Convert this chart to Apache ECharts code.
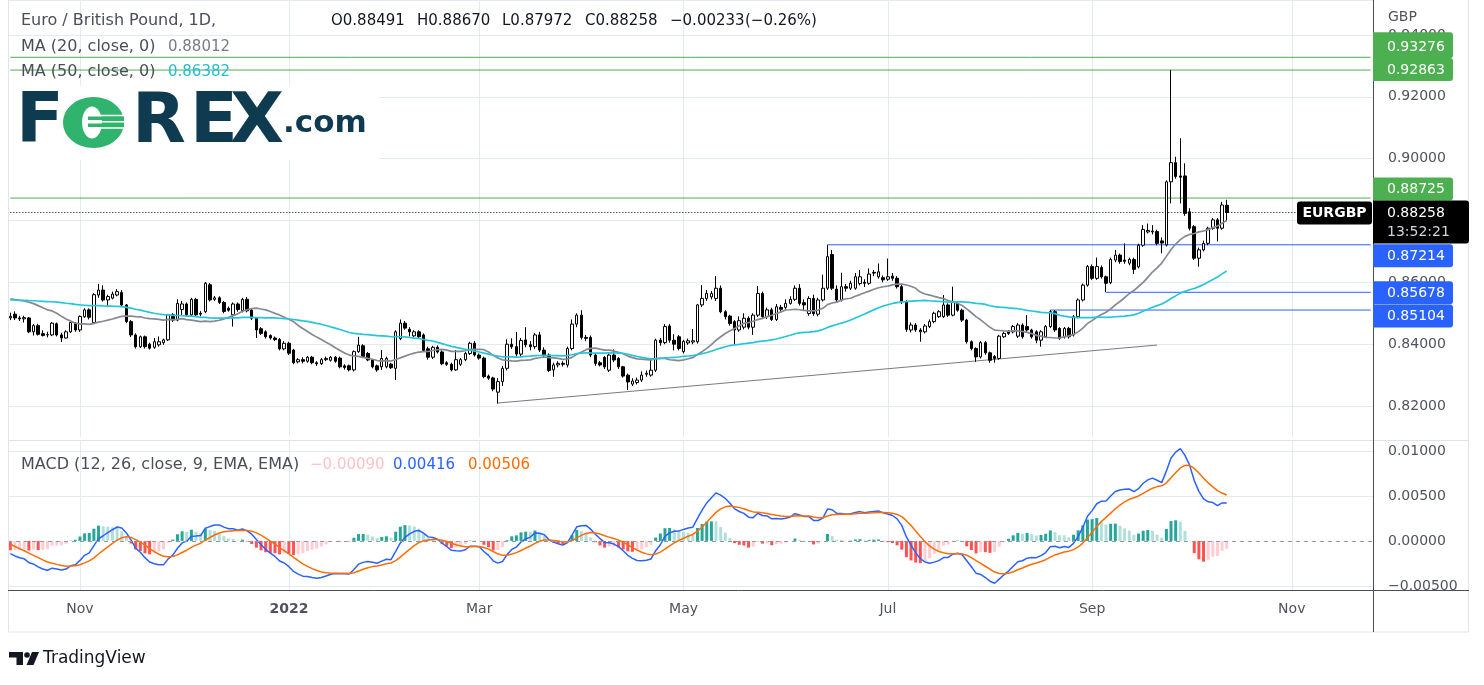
<!DOCTYPE html>
<html>
<head>
<meta charset="utf-8">
<script src="https://cdn.jsdelivr.net/npm/echarts/dist/echarts.min.js"></script>
<style>
html,body{margin:0;padding:0;background:#fff;}
#chart{width:1484px;height:685px;}
</style>
</head>
<body>
<div id="chart"></div>
<script>
// ---------------- DATA ----------------
const startDate = '2021-10-11';
const totalSlots = 294;
const monthTickDates = ['2021-11-01','2022-01-03','2022-03-01','2022-05-02','2022-07-01','2022-09-01','2022-11-01'];
const monthTickLabels = ['Nov','2022','Mar','May','Jul','Sep','Nov'];
const boldTickLabels = ['2022'];

// closes before the visible window (warm-up for moving averages / MACD)
const priorCloses = [0.8580,0.8600,0.8610,0.8570,0.8550,0.8550,0.8570,0.8560,0.8530,0.8540,
 0.8550,0.8520,0.8510,0.8510,0.8490,0.8480,0.8470,0.8480,0.8490,0.8480,
 0.8490,0.8510,0.8530,0.8530,0.8560,0.8580,0.8570,0.8560,0.8560,0.8570,
 0.8580,0.8580,0.8590,0.8590,0.8580,0.8580,0.8570,0.8560,0.8560,0.8580,
 0.8580,0.8540,0.8530,0.8520,0.8530,0.8550,0.8560,0.8570,0.8560,0.8540,
 0.8580,0.8620,0.8610,0.8610,0.8580,0.8530,0.8520,0.8510,0.8500,0.8490];

// daily candles: [open, close, low, high]
const candles = [
[0.8485,0.8490,0.8478,0.8502],[0.8497,0.8485,0.8478,0.8506],[0.8485,0.8482,0.8475,0.8492],[0.8482,0.8486,0.8470,0.8492],
[0.8485,0.8440,0.8436,0.8488],[0.8440,0.8460,0.8428,0.8465],[0.8460,0.8432,0.8428,0.8466],[0.8434,0.8428,0.8425,0.8445],
[0.8430,0.8431,0.8422,0.8440],[0.8430,0.8468,0.8426,0.8472],[0.8466,0.8430,0.8425,0.8470],[0.8430,0.8420,0.8407,0.8437],
[0.8420,0.8440,0.8418,0.8445],[0.8440,0.8470,0.8436,0.8474],[0.8468,0.8446,0.8440,0.8472],[0.8446,0.8490,0.8440,0.8493],
[0.8489,0.8511,0.8485,0.8516],[0.8511,0.8487,0.8480,0.8516],[0.8470,0.8560,0.8465,0.8565],[0.8559,0.8575,0.8550,0.8595],
[0.8575,0.8543,0.8538,0.8590],[0.8543,0.8554,0.8520,0.8560],[0.8549,0.8562,0.8545,0.8570],[0.8559,0.8570,0.8555,0.8578],
[0.8567,0.8527,0.8520,0.8575],[0.8527,0.8473,0.8468,0.8530],[0.8473,0.8430,0.8423,0.8478],[0.8430,0.8392,0.8386,0.8435],
[0.8392,0.8424,0.8388,0.8428],[0.8424,0.8392,0.8386,0.8428],[0.8400,0.8387,0.8383,0.8405],[0.8390,0.8408,0.8385,0.8420],
[0.8398,0.8408,0.8392,0.8425],[0.8405,0.8414,0.8398,0.8418],[0.8414,0.8495,0.8410,0.8498],[0.8495,0.8478,0.8472,0.8500],
[0.8478,0.8532,0.8474,0.8545],[0.8512,0.8530,0.8495,0.8540],[0.8530,0.8495,0.8490,0.8535],[0.8495,0.8545,0.8490,0.8550],
[0.8545,0.8495,0.8490,0.8550],[0.8497,0.8500,0.8490,0.8507],[0.8505,0.8597,0.8500,0.8601],[0.8592,0.8543,0.8538,0.8598],
[0.8545,0.8550,0.8540,0.8556],[0.8550,0.8535,0.8530,0.8555],[0.8535,0.8506,0.8500,0.8540],[0.8516,0.8510,0.8505,0.8522],
[0.8495,0.8530,0.8457,0.8535],[0.8530,0.8512,0.8505,0.8535],[0.8508,0.8545,0.8503,0.8550],[0.8545,0.8508,0.8503,0.8552],
[0.8510,0.8484,0.8478,0.8515],[0.8484,0.8446,0.8420,0.8488],[0.8450,0.8435,0.8430,0.8455],[0.8440,0.8424,0.8418,0.8445],
[0.8428,0.8420,0.8415,0.8432],[0.8420,0.8415,0.8410,0.8425],[0.8415,0.8385,0.8380,0.8420],[0.8385,0.8403,0.8380,0.8410],
[0.8403,0.8371,0.8365,0.8408],[0.8381,0.8340,0.8335,0.8385],[0.8343,0.8350,0.8338,0.8355],[0.8350,0.8345,0.8338,0.8358],
[0.8345,0.8358,0.8340,0.8362],[0.8358,0.8340,0.8335,0.8362],[0.8340,0.8337,0.8330,0.8345],[0.8337,0.8350,0.8333,0.8355],
[0.8350,0.8354,0.8345,0.8360],[0.8348,0.8358,0.8344,0.8362],[0.8358,0.8345,0.8340,0.8362],[0.8355,0.8327,0.8322,0.8360],
[0.8330,0.8325,0.8318,0.8335],[0.8330,0.8317,0.8312,0.8334],[0.8317,0.8376,0.8312,0.8380],[0.8376,0.8397,0.8372,0.8424],
[0.8395,0.8360,0.8355,0.8400],[0.8370,0.8349,0.8345,0.8375],[0.8349,0.8327,0.8322,0.8352],[0.8330,0.8317,0.8311,0.8334],
[0.8327,0.8354,0.8317,0.8381],[0.8327,0.8354,0.8322,0.8360],[0.8336,0.8324,0.8320,0.8340],[0.8322,0.8440,0.8284,0.8445],
[0.8418,0.8468,0.8413,0.8480],[0.8468,0.8452,0.8447,0.8475],[0.8448,0.8440,0.8425,0.8455],[0.8427,0.8440,0.8422,0.8445],
[0.8440,0.8424,0.8420,0.8445],[0.8430,0.8380,0.8375,0.8435],[0.8385,0.8358,0.8350,0.8392],[0.8358,0.8390,0.8352,0.8395],
[0.8390,0.8375,0.8370,0.8396],[0.8375,0.8337,0.8332,0.8380],[0.8340,0.8335,0.8330,0.8345],[0.8335,0.8317,0.8312,0.8340],
[0.8317,0.8350,0.8314,0.8381],[0.8335,0.8350,0.8330,0.8355],[0.8350,0.8370,0.8345,0.8375],[0.8370,0.8403,0.8365,0.8408],
[0.8403,0.8365,0.8360,0.8410],[0.8365,0.8355,0.8350,0.8370],[0.8355,0.8295,0.8290,0.8360],[0.8297,0.8290,0.8285,0.8302],
[0.8291,0.8255,0.8248,0.8295],[0.8245,0.8279,0.8208,0.8290],[0.8279,0.8322,0.8265,0.8330],[0.8322,0.8400,0.8315,0.8416],
[0.8400,0.8392,0.8385,0.8419],[0.8392,0.8368,0.8360,0.8440],[0.8368,0.8412,0.8360,0.8420],[0.8414,0.8398,0.8390,0.8455],
[0.8398,0.8392,0.8380,0.8410],[0.8392,0.8430,0.8385,0.8436],[0.8430,0.8381,0.8375,0.8440],[0.8381,0.8365,0.8358,0.8390],
[0.8365,0.8315,0.8310,0.8370],[0.8317,0.8333,0.8295,0.8340],[0.8333,0.8338,0.8325,0.8345],[0.8338,0.8335,0.8328,0.8345],
[0.8333,0.8386,0.8325,0.8392],[0.8386,0.8465,0.8380,0.8480],[0.8465,0.8494,0.8455,0.8500],[0.8494,0.8422,0.8415,0.8510],
[0.8422,0.8419,0.8410,0.8430],[0.8422,0.8365,0.8358,0.8428],[0.8365,0.8338,0.8330,0.8370],[0.8340,0.8333,0.8328,0.8346],
[0.8357,0.8327,0.8320,0.8362],[0.8316,0.8365,0.8310,0.8370],[0.8365,0.8349,0.8342,0.8383],[0.8354,0.8327,0.8320,0.8358],
[0.8327,0.8297,0.8292,0.8330],[0.8300,0.8278,0.8252,0.8305],[0.8271,0.8281,0.8265,0.8290],[0.8276,0.8284,0.8270,0.8292],
[0.8284,0.8300,0.8278,0.8312],[0.8303,0.8306,0.8295,0.8315],[0.8300,0.8316,0.8295,0.8350],[0.8316,0.8413,0.8310,0.8418],
[0.8413,0.8405,0.8395,0.8420],[0.8405,0.8457,0.8400,0.8465],[0.8459,0.8413,0.8405,0.8465],[0.8413,0.8400,0.8380,0.8432],
[0.8424,0.8386,0.8380,0.8430],[0.8376,0.8409,0.8370,0.8414],[0.8404,0.8411,0.8398,0.8418],[0.8407,0.8411,0.8400,0.8449],
[0.8408,0.8527,0.8402,0.8530],[0.8527,0.8548,0.8520,0.8591],[0.8548,0.8564,0.8540,0.8575],[0.8553,0.8564,0.8545,0.8572],
[0.8548,0.8581,0.8540,0.8620],[0.8581,0.8505,0.8500,0.8590],[0.8505,0.8489,0.8480,0.8510],[0.8491,0.8467,0.8460,0.8495],
[0.8473,0.8446,0.8397,0.8478],[0.8446,0.8476,0.8440,0.8490],[0.8455,0.8484,0.8448,0.8500],[0.8484,0.8455,0.8448,0.8490],
[0.8455,0.8494,0.8430,0.8500],[0.8494,0.8564,0.8488,0.8588],[0.8564,0.8489,0.8482,0.8570],[0.8489,0.8511,0.8482,0.8518],
[0.8511,0.8480,0.8475,0.8518],[0.8480,0.8521,0.8475,0.8530],[0.8519,0.8513,0.8505,0.8527],[0.8519,0.8532,0.8512,0.8545],
[0.8532,0.8545,0.8528,0.8555],[0.8545,0.8581,0.8540,0.8590],[0.8581,0.8532,0.8525,0.8594],[0.8534,0.8527,0.8510,0.8545],
[0.8499,0.8548,0.8492,0.8555],[0.8548,0.8499,0.8492,0.8560],[0.8497,0.8543,0.8490,0.8550],[0.8543,0.8581,0.8538,0.8625],
[0.8581,0.8683,0.8575,0.87214],[0.8690,0.8581,0.8575,0.8705],[0.8578,0.8543,0.8535,0.8590],[0.8543,0.8586,0.8538,0.8631],
[0.8586,0.8581,0.8570,0.8595],[0.8581,0.8597,0.8575,0.8605],[0.8581,0.8618,0.8576,0.8630],[0.8596,0.8618,0.8590,0.8640],
[0.8600,0.8597,0.8585,0.8610],[0.8597,0.8627,0.8592,0.8645],[0.8632,0.8630,0.8620,0.8640],[0.8618,0.8634,0.8612,0.8661],
[0.8615,0.8608,0.8600,0.8622],[0.8610,0.8618,0.8605,0.8677],[0.8620,0.8613,0.8605,0.8630],[0.8613,0.8586,0.8580,0.8620],
[0.8586,0.8537,0.8530,0.8592],[0.8537,0.8448,0.8440,0.8542],[0.8446,0.8462,0.8438,0.8470],[0.8462,0.8446,0.8440,0.8468],
[0.8446,0.8440,0.8408,0.8452],[0.8440,0.8459,0.8435,0.8465],[0.8457,0.8473,0.8452,0.8480],[0.8473,0.8500,0.8468,0.8505],
[0.8489,0.8505,0.8485,0.8510],[0.8489,0.8527,0.8485,0.8559],[0.8527,0.8494,0.8488,0.8532],[0.8494,0.8535,0.8490,0.8586],
[0.8532,0.8510,0.8505,0.8538],[0.8510,0.8478,0.8472,0.8515],[0.8478,0.8408,0.8402,0.8482],[0.8408,0.8386,0.8380,0.8412],
[0.8386,0.8359,0.8343,0.8390],[0.8359,0.8405,0.8354,0.8410],[0.8405,0.8372,0.8366,0.8410],[0.8372,0.8348,0.8340,0.8376],
[0.8360,0.8354,0.8340,0.8365],[0.8354,0.8426,0.8350,0.8430],[0.8424,0.8435,0.8420,0.8440],[0.8440,0.8435,0.8430,0.8446],
[0.8440,0.8457,0.8435,0.8462],[0.8426,0.8462,0.8420,0.8468],[0.8462,0.8424,0.8418,0.8468],[0.8457,0.8446,0.8440,0.8494],
[0.8446,0.8424,0.8418,0.8450],[0.8440,0.8413,0.8403,0.8445],[0.8413,0.8440,0.8392,0.8445],[0.8424,0.8457,0.8420,0.8462],
[0.8457,0.8505,0.8452,0.85104],[0.8505,0.8446,0.8440,0.8510],[0.8451,0.8419,0.8414,0.8455],[0.8424,0.8451,0.8418,0.8456],
[0.8451,0.8424,0.8418,0.8456],[0.8430,0.8489,0.8425,0.8495],[0.8489,0.8543,0.8484,0.8548],[0.8543,0.8591,0.8538,0.8596],
[0.8591,0.8651,0.8586,0.8656],[0.8651,0.8613,0.8608,0.8658],[0.8613,0.8651,0.8608,0.8680],[0.8648,0.8618,0.8612,0.8655],
[0.8618,0.8597,0.85678,0.8622],[0.8599,0.8674,0.8594,0.8680],[0.8672,0.8688,0.8665,0.8705],[0.8688,0.8667,0.8660,0.8693],
[0.8672,0.8668,0.8660,0.8726],[0.8662,0.8674,0.8655,0.8680],[0.8674,0.8642,0.8627,0.8680],[0.8650,0.8720,0.8645,0.8725],
[0.8720,0.8771,0.8715,0.8785],[0.8763,0.8768,0.8758,0.8790],[0.8763,0.8766,0.8755,0.8785],[0.8764,0.8726,0.8720,0.8770],
[0.8734,0.8727,0.8694,0.8745],[0.8721,0.8925,0.8716,0.8930],[0.8925,0.8987,0.8855,0.92863],[0.8987,0.8942,0.8935,0.9006],
[0.8944,0.8940,0.8855,0.9066],[0.8944,0.8823,0.8815,0.8985],[0.8828,0.8775,0.8768,0.8840],[0.8780,0.8678,0.8672,0.8785],
[0.8678,0.8705,0.8651,0.8712],[0.8705,0.8726,0.8700,0.8735],[0.8726,0.8775,0.8720,0.8780],[0.8775,0.8802,0.8770,0.8808],
[0.8802,0.8775,0.8732,0.8808],[0.8775,0.8850,0.8770,0.8860],[0.88491,0.88258,0.87972,0.88670]
];

const greenLevels = [0.93276, 0.92863, 0.88725];
const blueLevels = [
  {from: '2022-06-14', value: 0.87214},
  {from: '2022-09-06', value: 0.85678},
  {from: '2022-08-19', value: 0.85104}
];
const trendLine = [{date: '2022-03-07', value: 0.82098}, {date: '2022-09-21', value: 0.83973}];
const countdown = '13:52:21';
const symbolTag = 'EURGBP';
const titleText = 'Euro / British Pound, 1D,';
const ohlcTexts = ['O0.88491', 'H0.88670', 'L0.87972', 'C0.88258', '\u22120.00233', '(\u22120.26%)'];
const ma20Text = 'MA (20, close, 0)', ma20Value = '0.88012';
const ma50Text = 'MA (50, close, 0)', ma50Value = '0.86382';
const macdText = 'MACD (12, 26, close, 9, EMA, EMA)';
const macdValues = ['\u22120.00090', '0.00416', '0.00506'];

// ---------------- BUILD ----------------
const cats = [];
(function () {
  const p = startDate.split('-').map(Number);
  let t = Date.UTC(p[0], p[1] - 1, p[2]);
  while (cats.length < totalSlots) {
    const d = new Date(t);
    const wd = d.getUTCDay();
    if (wd !== 0 && wd !== 6) cats.push(d.toISOString().slice(0, 10));
    t += 86400000;
  }
})();
const tickMap = new Map(monthTickDates.map((d, i) => [d, monthTickLabels[i]]));

const closes = candles.map(r => r[1]);
const allCloses = priorCloses.concat(closes);
const off = priorCloses.length;

function smaAt(n, j) { let s = 0; for (let k = j - n + 1; k <= j; k++) s += allCloses[k]; return s / n; }
const ma20 = closes.map((_, i) => +smaAt(20, i + off).toFixed(6));
const ma50 = closes.map((_, i) => +smaAt(50, i + off).toFixed(6));

function ema(arr, n) { const a = 2 / (n + 1); const out = [arr[0]]; for (let i = 1; i < arr.length; i++) out.push(a * arr[i] + (1 - a) * out[i - 1]); return out; }
const e12 = ema(allCloses, 12), e26 = ema(allCloses, 26);
const macdAll = e12.map((v, i) => v - e26[i]);
const sigAll = ema(macdAll, 9);
const histAll = macdAll.map((v, i) => v - sigAll[i]);
const macdLine = macdAll.slice(off).map(v => +v.toFixed(6));
const sigLine = sigAll.slice(off).map(v => +v.toFixed(6));
const histData = histAll.slice(off).map((h, i) => {
  const prev = histAll[i + off - 1];
  let c;
  if (h >= 0) c = h > prev ? '#26a69a' : '#b2dfdb';
  else c = h < prev ? '#ff5252' : '#ffcdd2';
  return {value: +h.toFixed(6), itemStyle: {color: c}};
});

const FONT = '"DejaVu Sans", Verdana, sans-serif';
const GRID = '#e3eaf0';
const AXIS_TXT = '#50535e';

// split-line colours: only every second 0.01 tick on the price axis
const priceSplitColors = ['rgba(0,0,0,0)', GRID];
const macdSplitColors = [];
for (let i = 0; i < 40; i++) macdSplitColors.push((i === 1 || i === 21 || i === 31) ? GRID : 'rgba(0,0,0,0)');

const firstCat = cats[0], lastCat = cats[cats.length - 1];
const lastClose = closes[closes.length - 1];

function levelSeries(name, pts, color, type) {
  return {type: 'line', name: name, xAxisIndex: 0, yAxisIndex: 0, data: pts, showSymbol: false, silent: true, z: 2,
    lineStyle: {color: color, width: 1, type: type || 'solid'}};
}
const levelSeriesList = [];
greenLevels.forEach((v, i) => levelSeriesList.push(levelSeries('g' + i, [[firstCat, v], [lastCat, v]], '#4caf50')));
blueLevels.forEach((b, i) => levelSeriesList.push(levelSeries('b' + i, [[b.from, b.value], [lastCat, b.value]], '#2962ff')));
levelSeriesList.push(levelSeries('trend', trendLine.map(p => [p.date, p.value]), '#787b86'));
levelSeriesList.push(levelSeries('last', [[firstCat, lastClose], [lastCat, lastClose]], '#000000', [1, 2]));

const chart = echarts.init(document.getElementById('chart'), null, {renderer: 'canvas'});

const option = {
  animation: false,
  backgroundColor: '#ffffff',
  grid: [
    {left: 8, top: 0, width: 1365, height: 437, outerBoundsMode: 'none', containLabel: false},
    {left: 8, top: 441, width: 1365, height: 149.4, outerBoundsMode: 'none', containLabel: false}
  ],
  xAxis: [
    {type: 'category', gridIndex: 0, data: cats, boundaryGap: true,
     axisLine: {show: false}, axisTick: {show: false}, axisLabel: {show: false},
     splitLine: {show: true, alignWithLabel: true, interval: (i, v) => tickMap.has(v), lineStyle: {color: GRID, width: 1}}},
    {type: 'category', gridIndex: 1, data: cats, boundaryGap: true,
     axisLine: {show: false}, axisTick: {show: false},
     axisLabel: {show: true, interval: (i, v) => tickMap.has(v), margin: 12, fontFamily: FONT, fontSize: 14, color: AXIS_TXT,
       formatter: v => { const l = tickMap.get(v) || ''; return boldTickLabels.includes(l) ? '{b|' + l + '}' : l; },
       rich: {b: {fontWeight: 'bold', fontFamily: FONT, fontSize: 14, color: AXIS_TXT}}},
     splitLine: {show: true, alignWithLabel: true, interval: (i, v) => tickMap.has(v), lineStyle: {color: GRID, width: 1}}}
  ],
  yAxis: [
    {type: 'value', gridIndex: 0, position: 'right', min: 0.81, max: 0.95128, interval: 0.01,
     axisLine: {show: false}, axisTick: {show: false},
     axisLabel: {margin: 15, fontFamily: FONT, fontSize: 14, color: AXIS_TXT, align: 'left',
       formatter: v => { const r = Math.round(v * 100); return (Math.abs(v * 100 - r) < 1e-6 && r % 2 === 0) ? v.toFixed(5) : ''; }},
     splitLine: {show: true, lineStyle: {color: priceSplitColors, width: 1}}},
    {type: 'value', gridIndex: 1, position: 'right', min: -0.0055, max: 0.0111, interval: 0.0005,
     axisLine: {show: false}, axisTick: {show: false},
     axisLabel: {margin: 15, fontFamily: FONT, fontSize: 14, color: AXIS_TXT, align: 'left',
       formatter: v => { const r = Math.round(v * 1000); if (Math.abs(v * 1000 - r) > 1e-6 || r % 5 !== 0) return ''; if (r === 0) return '0.00000'; return (v < 0 ? '\u2212' : '') + Math.abs(v).toFixed(5); }},
     splitLine: {show: true, lineStyle: {color: macdSplitColors, width: 1}}}
  ],
  series: levelSeriesList.concat([
    {type: 'candlestick', name: 'EURGBP', xAxisIndex: 0, yAxisIndex: 0, data: candles, barWidth: 3, z: 3,
     itemStyle: {color: '#ffffff', color0: '#000000', borderColor: '#000000', borderColor0: '#000000', borderWidth: 1}},
    {type: 'line', name: 'MA20', xAxisIndex: 0, yAxisIndex: 0, data: ma20, showSymbol: false, z: 4,
     lineStyle: {color: '#868993', width: 1.7}},
    {type: 'line', name: 'MA50', xAxisIndex: 0, yAxisIndex: 0, data: ma50, showSymbol: false, z: 4,
     lineStyle: {color: '#26c6da', width: 1.7}},
    {type: 'bar', name: 'Histogram', xAxisIndex: 1, yAxisIndex: 1, data: histData, barWidth: 3,
     markLine: {silent: true, symbol: ['none', 'none'], animation: false, label: {show: false},
       data: [{yAxis: 0, lineStyle: {color: '#9598a1', width: 1, type: [4, 4]}}]}},
    {type: 'line', name: 'MACD', xAxisIndex: 1, yAxisIndex: 1, data: macdLine, showSymbol: false, z: 4,
     lineStyle: {color: '#2962ff', width: 1.5}},
    {type: 'line', name: 'Signal', xAxisIndex: 1, yAxisIndex: 1, data: sigLine, showSymbol: false, z: 4,
     lineStyle: {color: '#ff6d00', width: 1.5}}
  ])
};
chart.setOption(option);

// --------------- overlays positioned through the price scale ---------------
const yp = v => chart.convertToPixel({yAxisIndex: 0}, v);
const g = [];
function txt(text, x, y, font, fill, align) {
  g.push({type: 'text', z: 50, silent: true, style: {text: text, x: x, y: y, font: font, fill: fill,
    textAlign: align || 'left', textVerticalAlign: 'middle', align: align || 'left', verticalAlign: 'middle'}});
}
function rect(x, y, w, h, fill, r, z) {
  g.push({type: 'rect', z: z || 40, silent: true, shape: {x: x, y: y, width: w, height: h, r: r || 0}, style: {fill: fill}});
}
function line(x1, y1, x2, y2, stroke, z, w) {
  g.push({type: 'line', z: z || 30, silent: true, shape: {x1: x1, y1: y1, x2: x2, y2: y2}, style: {stroke: stroke, lineWidth: w || 1}});
}

// frame & axes
g.push({type: 'rect', z: 29, silent: true, shape: {x: 8.5, y: -1, width: 1460, height: 633}, style: {fill: 'none', stroke: '#e0e3eb', lineWidth: 1}});
line(8, 440.5, 1469, 440.5, '#e0e3eb');
line(8, 590.5, 1469, 590.5, '#4a4d55');
line(1373.5, 0, 1373.5, 632, '#4a4d55');

// FOREX.com logo
rect(9, 86, 370, 74, '#ffffff', 0, 35);
const LOGO = 'bold 70px "DejaVu Sans"';
const NAVY = '#0e3b50', LGREEN = '#2fb36d';
txt('F', 16, 124, LOGO, NAVY);
g.push({type: 'ellipse', z: 50, silent: true, shape: {cx: 93.5, cy: 122.5, rx: 30.5, ry: 25.5}, style: {fill: LGREEN}});
g.push({type: 'ellipse', z: 51, silent: true, shape: {cx: 92, cy: 122.5, rx: 10, ry: 16}, style: {fill: '#ffffff'}});
rect(88, 116.5, 36, 3.5, LGREEN, 0, 52);
rect(88, 123.5, 36, 3.5, LGREEN, 0, 52);
line(100, 115.5, 124, 115.5, '#ffffff', 53, 1.5);
line(100, 121.8, 124, 121.8, '#ffffff', 53, 1.5);
line(100, 128, 124, 128, '#ffffff', 53, 1.5);
txt('R', 132, 124, LOGO, NAVY);
txt('E', 190, 124, LOGO, NAVY);
txt('X', 230, 124, LOGO, NAVY);
txt('.com', 283, 124, 'bold 31px "DejaVu Sans"', NAVY);

// legends
const LEG = '16px ' + FONT;
const NUM = '15px ' + FONT;
txt(titleText, 21, 21, LEG, '#4a4e59');
const ohlcX = [331, 417, 502, 585, 670, 745];
ohlcTexts.forEach((t, i) => txt(t, ohlcX[i], 21, NUM, '#131722'));
txt(ma20Text, 21, 47, LEG, '#4a4e59');
txt(ma20Value, 168, 47, NUM, '#787b86');
txt(ma50Text, 21, 72, LEG, '#4a4e59');
txt(ma50Value, 168, 72, NUM, '#22bcd4');
txt(macdText, 21, 465, LEG, '#4a4e59');
txt(macdValues[0], 310, 465, NUM, '#ffc2c8');
txt(macdValues[1], 393, 465, NUM, '#2962ff');
txt(macdValues[2], 468, 465, NUM, '#ff6d00');
txt('GBP', 1388, 17, '14px ' + FONT, AXIS_TXT);

// price-scale boxes
const AX = '14px ' + FONT;
function priceBox(v, fill, shift, extraTop) {
  const y = yp(v) + shift;
  const et = extraTop || 0;
  rect(1373, y - 11.5 - et, 80, 23 + et, fill, [0, 3, 3, 0], 40);
  txt(v.toFixed(5), 1387, y + 0.5, AX, '#ffffff');
}
priceBox(greenLevels[0], '#4caf50', -10.5, 3);
priceBox(greenLevels[1], '#4caf50', -0.5);
priceBox(greenLevels[2], '#4caf50', -9);
priceBox(blueLevels[0].value, '#2962ff', 11);
priceBox(blueLevels[1].value, '#2962ff', 0.5);
priceBox(blueLevels[2].value, '#2962ff', 6);
const yc = yp(lastClose);
rect(1373, yc - 12, 96, 43, '#000000', [0, 3, 3, 0], 41);
txt(lastClose.toFixed(5), 1387, yc + 0.5, AX, '#ffffff');
txt(countdown, 1387, yc + 20, AX, '#d1d4dc');
rect(1297, yc - 11, 75, 23, '#000000', 3, 41);
txt(symbolTag, 1334.5, yc + 1, 'bold 14px ' + FONT, '#ffffff', 'center');

// TradingView logo
g.push({type: 'polygon', z: 40, silent: true, shape: {points: [[9, 652], [23, 652], [23, 665], [16.5, 665], [16.5, 657.5], [9, 657.5]]}, style: {fill: '#131722'}});
g.push({type: 'circle', z: 40, silent: true, shape: {cx: 27, cy: 655, r: 2.8}, style: {fill: '#131722'}});
g.push({type: 'polygon', z: 40, silent: true, shape: {points: [[32, 652], [39, 652], [33.5, 665], [26.5, 665]]}, style: {fill: '#131722'}});
txt('TradingView', 43, 659, '17px ' + FONT, '#131722');

chart.setOption({graphic: g});
</script>
</body>
</html>
